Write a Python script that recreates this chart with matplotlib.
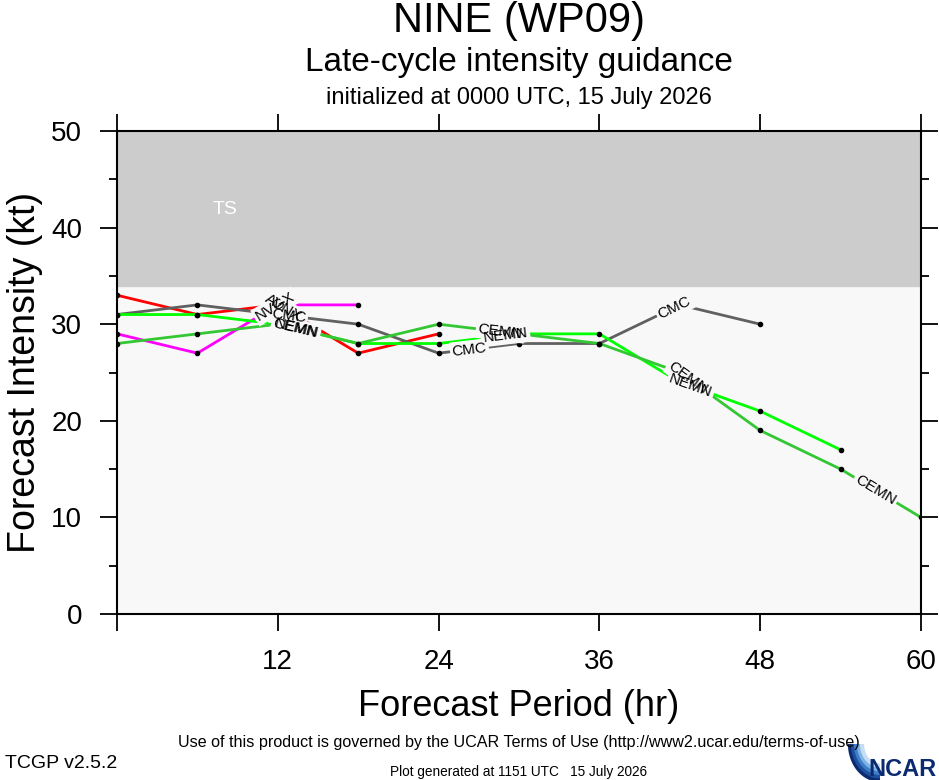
import numpy as np
import matplotlib
matplotlib.use("Agg")
import matplotlib.pyplot as plt

plt.rcParams["font.family"] = ["Liberation Sans", "DejaVu Sans"]

# forecast hours and intensities (kt)
hours = [0, 6, 12, 18, 24, 30, 36, 42, 48, 54, 60]

avnx = [33, 31, 32, 27, 29]
nvgx = [29, 27, 32, 32]
cmc = [31, 32, 31, 30, 27, 28, 28, 32, 30]
nemn = [31, 31, 30, 28, 28, 29, 29, 24, 21, 17]
cemn = [28, 29, 30, 28, 30, 29, 28, 25, 19, 15, 10]

models = ["AVNX", "NVGX", "CMC", "NEMN", "CEMN"]
values = [avnx, nvgx, cmc, nemn, cemn]
colors = ["#ff0000", "#ff00ff", "#606060", "#00ff00", "#33c833"]
# where each model name is written along its line (forecast hour)
label_hours = [[12.4], [11.8], [12.8, 26.3, 41.6], [13.4, 29.0, 42.8], [13.3, 28.6, 42.6, 56.6]]

bg = "#f8f8f8"

fig = plt.figure(figsize=(9.39, 7.8), dpi=100)
ax = fig.add_axes([117 / 939, 1 - 614 / 780, 804 / 939, 483 / 780])
ax.set_facecolor(bg)
ax.set_xlim(0, 60)
ax.set_ylim(0, 50)

# tropical storm band
ax.axhspan(34, 50, color="#cccccc", zorder=0)
ax.text(8.1, 41.9, "TS", color="white", fontsize=14, ha="center", va="center")

for name, vals, col in zip(models, values, colors):
    h = hours[:len(vals)]
    ax.plot(h, vals, color=col, lw=2.0, zorder=2, solid_capstyle="butt")
    ax.plot(h, vals, ls="none", marker="o", ms=3, color="black", zorder=3)

fig.canvas.draw()

# line labels: first the blanking boxes, then the text on top
for name, vals, lh in zip(models, values, label_hours):
    h = hours[:len(vals)]
    for t in lh:
        v = np.interp(t, h, vals)
        i = min(int(t // 6), len(vals) - 2)
        p0 = ax.transData.transform((h[i], vals[i]))
        p1 = ax.transData.transform((h[i + 1], vals[i + 1]))
        ang = np.degrees(np.arctan2(p1[1] - p0[1], p1[0] - p0[0]))
        ax.text(t, v, name, fontsize=11, color="none", rotation=ang,
                rotation_mode="anchor", ha="center", va="center", zorder=4,
                bbox=dict(facecolor=bg, edgecolor="none", pad=1.5))
        ax.text(t, v, name, fontsize=11, color="black", rotation=ang,
                rotation_mode="anchor", ha="center", va="center", zorder=5)

ax.set_xticks([0, 12, 24, 36, 48, 60])
ax.set_xticklabels(["", "12", "24", "36", "48", "60"])
ax.set_yticks([0, 10, 20, 30, 40, 50])
ax.set_yticks([5, 15, 25, 35, 45], minor=True)
ax.tick_params(which="major", direction="out", length=12, width=1.3, labelsize=20,
               pad=13, top=True, right=True)
ax.tick_params(which="minor", direction="out", length=6, width=1.3, right=True)
for s in ax.spines.values():
    s.set_linewidth(1.5)

cx = 519 / 939
fig.text(cx, 1 - 21 / 780, "NINE (WP09)", fontsize=30, ha="center", va="center")
fig.text(cx, 1 - 62 / 780, "Late-cycle intensity guidance", fontsize=24, ha="center", va="center")
fig.text(cx, 1 - 98 / 780, "initialized at 0000 UTC, 15 July 2026", fontsize=17, ha="center", va="center")
fig.text(cx, 1 - 707 / 780, "Forecast Period (hr)", fontsize=26, ha="center", va="center")
fig.text(25 / 939, 1 - 372 / 780, "Forecast Intensity (kt)", fontsize=27, ha="center",
         va="center", rotation=90)

narrow = ["Liberation Sans Narrow", "Liberation Sans"]
fig.text(cx, 1 - 742 / 780,
         "Use of this product is governed by the UCAR Terms of Use (http://www2.ucar.edu/terms-of-use)",
         fontsize=11.6, ha="center", va="center", family=narrow)
fig.text(5 / 939, 1 - 764 / 780, "TCGP v2.5.2", fontsize=14, ha="left", va="center", family=narrow)
fig.text(cx, 1 - 772 / 780, "Plot generated at 1151 UTC   15 July 2026", fontsize=9.8,
         ha="center", va="center", family=narrow)

# NCAR logo
logo = fig.add_axes([840 / 939, 0, 99 / 939, 36 / 780])
logo.set_xlim(0, 99)
logo.set_ylim(0, 36)
logo.axis("off")
for k, c in enumerate(["#0b2a6f", "#1f4fa0", "#3f7fc8", "#7fb2e5", "#c5def5"]):
    th = np.linspace(np.pi, 1.5 * np.pi, 30)
    r = 30 - k * 3
    xs = 40 + r * np.cos(th)
    ys = 36 + r * np.sin(th) * 1.2
    logo.plot(xs, ys, color=c, lw=3, solid_capstyle="butt")
logo.text(97, 10, "NCAR", fontsize=17, fontweight="bold", color="#0b2a6f",
          ha="right", va="center", family=narrow)

fig.savefig("out.png", dpi=100)
